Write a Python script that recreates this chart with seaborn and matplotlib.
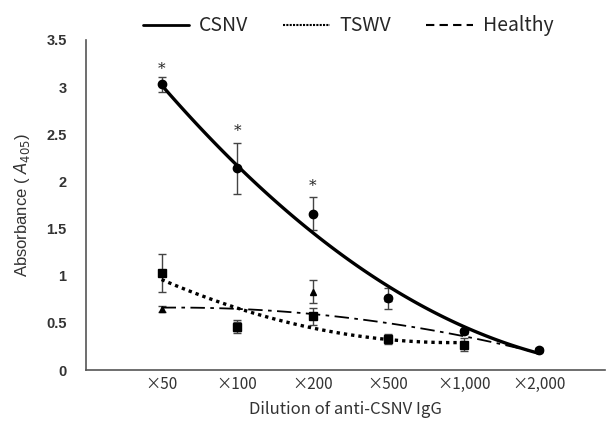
import matplotlib
matplotlib.use("Agg")
import matplotlib.pyplot as plt
import numpy as np
import seaborn as sns
from matplotlib.lines import Line2D

# dilution categories
dilutions = ["×50", "×100", "×200", "×500", "×1,000", "×2,000"]

# mean absorbance and error per group
csnv_vals = [3.03, 2.14, 1.66, 0.76, 0.41, 0.21]
csnv_err = [0.08, 0.27, 0.17, 0.11, 0.03, 0.02]

tswv_vals = [1.03, 0.46, 0.57, 0.33, 0.27]
tswv_err = [0.20, 0.07, 0.09, 0.05, 0.07]

healthy_vals = [0.65, 0.46, 0.83, 0.76, 0.41, 0.21]
healthy_err = [0.03, 0.05, 0.12, 0.03, 0.02, 0.02]

# trend line values at each dilution
csnv_trend = [3.03, 2.15, 1.47, 0.90, 0.45, 0.18]
tswv_trend = [0.96, 0.66, 0.44, 0.33, 0.29]
healthy_trend = [0.66, 0.65, 0.60, 0.49, 0.36, 0.18]

# significance marks (CSNV vs others)
star_idx = [0, 1, 2]
star_y = [3.19, 2.53, 1.95]

sns.set_theme(style="white")
plt.rcParams["font.family"] = ["Liberation Sans", "Noto Sans CJK JP", "DejaVu Sans"]
cjk = ["Noto Sans CJK JP", "DejaVu Sans"]

fig = plt.figure(figsize=(6.06, 4.21), dpi=100)
ax = fig.add_axes([0.142, 0.121, 0.856, 0.784])

pos = np.arange(1, len(dilutions) + 1)
ink = "black"
err_col = "#444444"

groups = [
    (healthy_vals, healthy_err, healthy_trend, "^", 5.0, (0, (8, 3, 2, 3)), 1.3),
    (tswv_vals, tswv_err, tswv_trend, "s", 5.5, (0, (1, 1.2)), 2.4),
    (csnv_vals, csnv_err, csnv_trend, "o", 6.0, "-", 2.4),
]
for vals, err, trend, mk, ms, ls, lw in groups:
    x = pos[:len(vals)]
    ax.errorbar(x, vals, yerr=err, fmt="none", ecolor=err_col, elinewidth=1.0,
                capsize=3, capthick=1.0, zorder=3)
    ax.plot(x, vals, linestyle="none", marker=mk, markersize=ms, color=ink, zorder=4)
    sns.regplot(x=pos[:len(trend)], y=trend, order=2, ci=None, scatter=False,
                truncate=True, ax=ax,
                line_kws={"color": ink, "linestyle": ls, "linewidth": lw, "zorder": 5})

for i, yv in zip(star_idx, star_y):
    ax.text(pos[i], yv, "*", ha="center", va="center", fontsize=11, color="#222222",
            family="DejaVu Serif")

ax.set_xlim(0, 6.87)
ax.set_ylim(0, 3.5)
ax.set_yticks(np.arange(0, 3.51, 0.5))
ax.set_yticklabels(["0", "0.5", "1", "1.5", "2", "2.5", "3", "3.5"],
                   fontsize=10.5, fontweight="bold", color="#333333")
ax.set_xticks(pos)
ax.set_xticklabels(dilutions, fontsize=11, color="#333333", family=cjk)
ax.tick_params(axis="x", length=0, pad=4)
ax.tick_params(axis="y", length=0, pad=14)

ax.set_xlabel("Dilution of anti-CSNV IgG", fontsize=12, color="#333333", labelpad=6,
              family=cjk)
ax.set_ylabel("Absorbance ( $\\it{A}_{\\it{405}}$)", fontsize=12, color="#333333",
              labelpad=10)

sns.despine(ax=ax)
for s in ["left", "bottom"]:
    ax.spines[s].set_color("#555555")
    ax.spines[s].set_linewidth(1.2)

handles = [
    Line2D([], [], color=ink, linestyle="-", linewidth=2),
    Line2D([], [], color=ink, linestyle=(0, (1, 0.6)), linewidth=1.5),
    Line2D([], [], color=ink, linestyle=(0, (4, 2.5)), linewidth=1.5),
]
fig.legend(handles, ["CSNV", "TSWV", "Healthy"], loc="upper center",
           bbox_to_anchor=(0.574, 1.005), ncol=3, frameon=False, handlelength=2.4,
           handletextpad=0.5, columnspacing=1.8, prop={"family": cjk, "size": 14})

fig.savefig("out.png", dpi=100)
